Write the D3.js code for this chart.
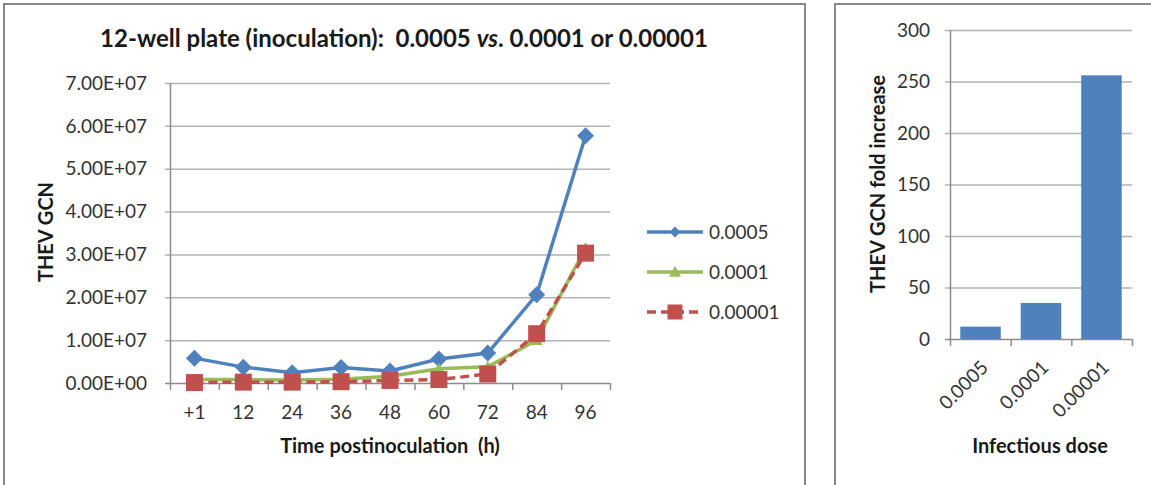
<!DOCTYPE html>
<html>
<head>
<meta charset="utf-8">
<script src="https://cdn.jsdelivr.net/npm/d3@7"></script>
<style>
  body { margin: 0; background: #fff; }
  svg { display: block; font-family: Lato, 'Open Sans', sans-serif; }
  text { white-space: pre; }
</style>
</head>
<body>
<div id="chart"></div>
<script>
// Data.
const hours = ['+1', '12', '24', '36', '48', '60', '72', '84', '96'];
const dose0005 = [5.8e6, 3.7e6, 2.4e6, 3.6e6, 2.8e6, 5.6e6, 7.0e6, 2.06e7, 5.77e7];
const dose0001 = [0.8e6, 0.8e6, 0.7e6, 0.9e6, 1.6e6, 3.3e6, 3.8e6, 1.0e7, 3.15e7];
const dose00001 = [1e5, 2e5, 2e5, 3e5, 6e5, 8e5, 2.1e6, 1.15e7, 3.03e7];
const seriesNames = ['0.0005', '0.0001', '0.00001'];
const gcnTicks = [0, 1e7, 2e7, 3e7, 4e7, 5e7, 6e7, 7e7];

const doses = ['0.0005', '0.0001', '0.00001'];
const foldIncrease = [12, 35, 256];
const foldTicks = [0, 50, 100, 150, 200, 250, 300];

const BLUE = '#4f81bd';
const GREEN = '#9bbb59';
const RED = '#c0504d';
const GRID = '#b3b3b3';
const AXIS = '#8c8c8c';
const TEXT = '#1a1a1a';
const TICK_TEXT = '#333';

const svg = d3.select('#chart')
  .append('svg')
  .attr('width', 1151)
  .attr('height', 485);

// Panel frames.
svg.append('rect')
  .attr('x', 4).attr('y', 4).attr('width', 801).attr('height', 500)
  .attr('fill', 'none').attr('stroke', '#888').attr('stroke-width', 2);
svg.append('rect')
  .attr('x', 835).attr('y', 4).attr('width', 340).attr('height', 500)
  .attr('fill', 'none').attr('stroke', '#888').attr('stroke-width', 2);

// Excel style exponent label, e.g. 7.00E+07.
const sci = v => {
  const [m, e] = d3.format('.2e')(v).split('e');
  return m + 'E' + e[0] + e.slice(1).padStart(2, '0');
};

// ---------- Line chart ----------
const x = d3.scaleBand().domain(hours).range([170, 610]);
const y = d3.scaleLinear().domain([0, 7e7]).range([383, 83]);
const cx = d => x(d) + x.bandwidth() / 2;

svg.append('g')
  .selectAll('line')
  .data(gcnTicks)
  .join('line')
  .attr('x1', 165).attr('x2', 610)
  .attr('y1', d => y(d) + 0.5).attr('y2', d => y(d) + 0.5)
  .attr('stroke', d => d === 0 ? AXIS : GRID)
  .attr('stroke-width', 1.5);

svg.append('line')
  .attr('x1', 170.5).attr('x2', 170.5).attr('y1', 83).attr('y2', 383)
  .attr('stroke', AXIS).attr('stroke-width', 1.5);

svg.append('g')
  .selectAll('line')
  .data(d3.range(hours.length + 1))
  .join('line')
  .attr('x1', d => 170 + d * x.step() + 0.5)
  .attr('x2', d => 170 + d * x.step() + 0.5)
  .attr('y1', 383).attr('y2', 390)
  .attr('stroke', AXIS).attr('stroke-width', 1.5);

svg.append('g')
  .selectAll('text')
  .data(gcnTicks)
  .join('text')
  .attr('x', 147).attr('y', d => y(d))
  .attr('dy', '0.35em')
  .attr('text-anchor', 'end')
  .attr('fill', TICK_TEXT)
  .style('font-size', '19px')
  .text(sci);

svg.append('g')
  .selectAll('text')
  .data(hours)
  .join('text')
  .attr('x', cx).attr('y', 419)
  .attr('text-anchor', 'middle')
  .attr('fill', TICK_TEXT)
  .style('font-size', '19px')
  .text(d => d);

// Titles.
const title = svg.append('text')
  .attr('x', 404).attr('y', 47)
  .attr('text-anchor', 'middle')
  .attr('fill', TEXT)
  .style('font-size', '24px')
  .style('font-weight', 'bold');
title.append('tspan').text('12-well plate (inoculation):  0.0005 ');
title.append('tspan').style('font-style', 'italic').text('vs');
title.append('tspan').text('. 0.0001 or 0.00001');

svg.append('text')
  .attr('x', 390).attr('y', 453)
  .attr('text-anchor', 'middle')
  .attr('fill', TEXT)
  .style('font-size', '20px').style('font-weight', 'bold')
  .text('Time postinoculation  (h)');

svg.append('text')
  .attr('transform', 'translate(46,232) rotate(-90)')
  .attr('dy', '0.35em')
  .attr('text-anchor', 'middle')
  .attr('fill', TEXT)
  .style('font-size', '20px').style('font-weight', 'bold')
  .text('THEV GCN');

// Marker shapes.
const diamond = s => `M0,${-s}L${s},0L0,${s}L${-s},0Z`;
const triangle = s => `M0,${-s}L${s},${s * 0.8}L${-s},${s * 0.8}Z`;
const square = s => `M${-s},${-s}H${s}V${s}H${-s}Z`;

const series = [
  { name: seriesNames[0], values: dose0005, color: BLUE, dash: null, marker: diamond(8.5), legendMarker: diamond(5.5) },
  { name: seriesNames[1], values: dose0001, color: GREEN, dash: null, marker: triangle(6), legendMarker: triangle(6) },
  { name: seriesNames[2], values: dose00001, color: RED, dash: '9,5', marker: square(8.5), legendMarker: square(7.5) }
];

const line = d3.line()
  .x((d, i) => cx(hours[i]))
  .y(d => y(d));

series.forEach(s => {
  const g = svg.append('g');
  g.append('path')
    .datum(s.values)
    .attr('d', line)
    .attr('fill', 'none')
    .attr('stroke', s.color)
    .attr('stroke-width', 3.5)
    .attr('stroke-dasharray', s.dash);
  g.selectAll('path.marker')
    .data(s.values)
    .join('path')
    .attr('class', 'marker')
    .attr('transform', (d, i) => `translate(${cx(hours[i])},${y(d)})`)
    .attr('d', s.marker)
    .attr('fill', s.color);
});

// Legend.
const legend = svg.append('g')
  .selectAll('g')
  .data(series)
  .join('g')
  .attr('transform', (d, i) => `translate(647,${232 + i * 40})`);

legend.append('line')
  .attr('x1', 0).attr('x2', 56)
  .attr('stroke', d => d.color)
  .attr('stroke-width', 3.5)
  .attr('stroke-dasharray', d => d.dash);

legend.append('path')
  .attr('transform', 'translate(28,0)')
  .attr('d', d => d.legendMarker)
  .attr('fill', d => d.color);

legend.append('text')
  .attr('x', 62).attr('dy', '0.35em')
  .attr('fill', TICK_TEXT)
  .style('font-size', '19px')
  .text(d => d.name);

// ---------- Bar chart ----------
const xb = d3.scaleBand().domain(doses).range([950, 1132]).paddingInner(0.33).paddingOuter(0.17);
const yb = d3.scaleLinear().domain([0, 300]).range([339, 30]);

svg.append('g')
  .selectAll('line')
  .data(foldTicks)
  .join('line')
  .attr('x1', 945).attr('x2', 1132)
  .attr('y1', d => yb(d) + 0.5).attr('y2', d => yb(d) + 0.5)
  .attr('stroke', d => d === 0 ? AXIS : GRID)
  .attr('stroke-width', 1.5);

svg.append('line')
  .attr('x1', 950.5).attr('x2', 950.5).attr('y1', 30).attr('y2', 339)
  .attr('stroke', AXIS).attr('stroke-width', 1.5);

const bandStep = (1132 - 950) / doses.length;
svg.append('g')
  .selectAll('line')
  .data(d3.range(doses.length + 1))
  .join('line')
  .attr('x1', d => 950.5 + d * bandStep).attr('x2', d => 950.5 + d * bandStep)
  .attr('y1', 339).attr('y2', 346)
  .attr('stroke', AXIS).attr('stroke-width', 1.5);

svg.append('g')
  .selectAll('rect')
  .data(foldIncrease)
  .join('rect')
  .attr('x', (d, i) => xb(doses[i]))
  .attr('width', xb.bandwidth())
  .attr('y', d => yb(d))
  .attr('height', d => yb(0) - yb(d))
  .attr('fill', BLUE);

svg.append('g')
  .selectAll('text')
  .data(foldTicks)
  .join('text')
  .attr('x', 930).attr('y', d => yb(d))
  .attr('dy', '0.35em')
  .attr('text-anchor', 'end')
  .attr('fill', TICK_TEXT)
  .style('font-size', '19px')
  .text(d => d);

svg.append('g')
  .selectAll('text')
  .data(doses)
  .join('text')
  .attr('transform', d => `translate(${xb(d) + xb.bandwidth() / 2 + 4},${364}) rotate(-45)`)
  .attr('dy', '0.35em')
  .attr('text-anchor', 'end')
  .attr('fill', TICK_TEXT)
  .style('font-size', '19px')
  .text(d => d);

svg.append('text')
  .attr('x', 1040).attr('y', 453)
  .attr('text-anchor', 'middle')
  .attr('fill', TEXT)
  .style('font-size', '20px').style('font-weight', 'bold')
  .text('Infectious dose');

svg.append('text')
  .attr('transform', 'translate(878,184) rotate(-90)')
  .attr('dy', '0.35em')
  .attr('text-anchor', 'middle')
  .attr('fill', TEXT)
  .style('font-size', '20px').style('font-weight', 'bold')
  .text('THEV GCN fold increase');
</script>
</body>
</html>
